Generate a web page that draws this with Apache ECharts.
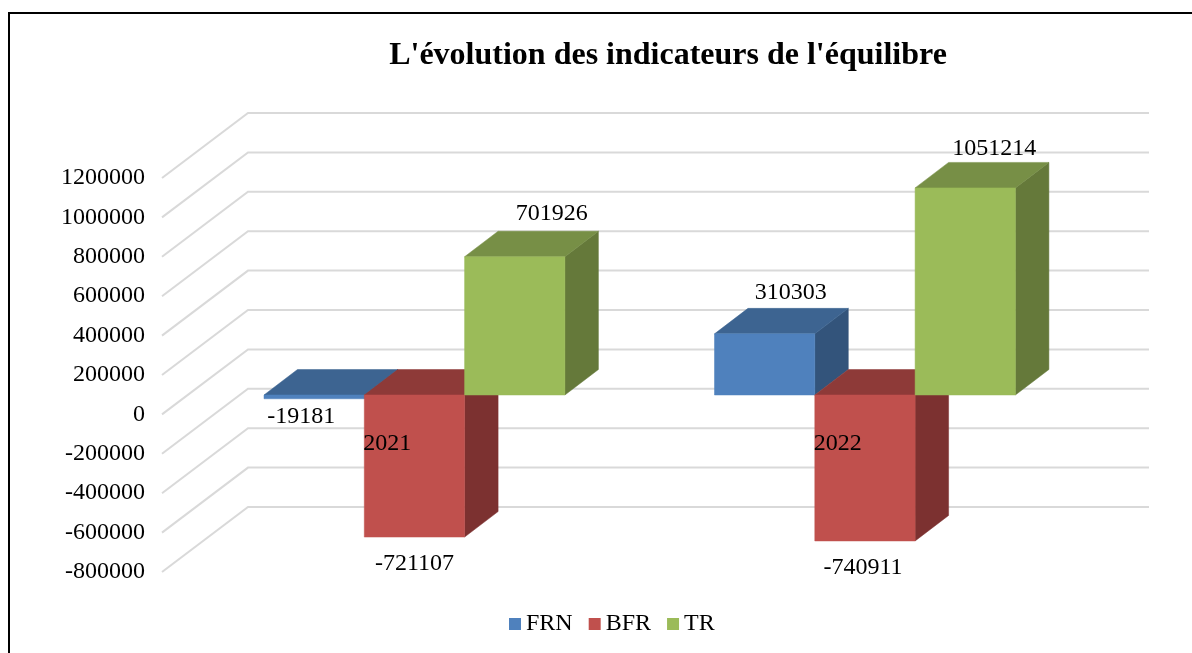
<!DOCTYPE html>
<html>
<head>
<meta charset="utf-8">
<style>html,body{margin:0;padding:0;background:#fff}#c{width:1192px;height:653px}</style>
<script src="https://cdn.jsdelivr.net/npm/echarts@6/dist/echarts.min.js"></script>
</head>
<body>
<div id="c"></div>
<script>
const categories = ['2021', '2022'];
const seriesNames = ['FRN', 'BFR', 'TR'];
const frn = [-19181, 310303];
const bfr = [-721107, -740911];
const tr = [701926, 1051214];
const gridTicks = [-800000, -600000, -400000, -200000, 0, 200000, 400000, 600000, 800000, 1000000, 1200000];

const FONT = '"Liberation Serif", "Times New Roman", serif';
const WALL = {dx: 86, dy: -65};
const DEPTH = {dx: 33.5, dy: -25.5};
const PLANE = {dx: 27.2, dy: -19.4};
const BAR_W = 100.3;
const faces = [
  {front: '#4F81BD', top: '#3D6491', side: '#33547B'},
  {front: '#C0504D', top: '#8E3A38', side: '#7C3130'},
  {front: '#9BBB59', top: '#778F46', side: '#65793A'}
];
// hand-placed data label offsets from the bar's front edge centre
const labelOffsets = [
  [[-13, 18], [26, -41]],
  [[0, 27], [-2, 27]],
  [[37, -43], [29, -39]]
];

function poly(points, fill) {
  return {type: 'polygon', shape: {points}, style: {fill, stroke: fill, lineWidth: 0.5}};
}

function barSeries(name, idx, values) {
  return {
    name, type: 'custom', coordinateSystem: 'cartesian2d', clip: false, z: 3 + idx,
    itemStyle: {color: faces[idx].front},
    encode: {x: 0, y: 1},
    data: values.map((v, i) => [i, v]),
    renderItem(params, api) {
      const c = api.value(0), v = api.value(1);
      const base = api.coord([c, 0]);
      const end = api.coord([c, v]);
      const x0 = base[0] + PLANE.dx + (idx - 1.5) * BAR_W;
      const x1 = x0 + BAR_W;
      const y0 = base[1] + PLANE.dy;
      const y1 = end[1] + PLANE.dy;
      const top = Math.min(y0, y1), bot = Math.max(y0, y1);
      const d = DEPTH, f = faces[idx];
      const off = labelOffsets[idx][c];
      const labelY = v >= 0 ? top : bot;
      return {type: 'group', children: [
        poly([[x1, top], [x1 + d.dx, top + d.dy], [x1 + d.dx, bot + d.dy], [x1, bot]], f.side),
        poly([[x0, top], [x0 + d.dx, top + d.dy], [x1 + d.dx, top + d.dy], [x1, top]], f.top),
        poly([[x0, top], [x1, top], [x1, bot], [x0, bot]], f.front),
        {type: 'text', style: {
          text: String(v), x: (x0 + x1) / 2 + off[0], y: labelY + off[1],
          align: 'center', verticalAlign: 'middle', fill: '#000',
          font: '24px ' + FONT
        }}
      ]};
    }
  };
}

const chart = echarts.init(document.getElementById('c'), null, {renderer: 'canvas'});
chart.setOption({
  animation: false,
  backgroundColor: '#fff',
  title: {
    text: "L'évolution des indicateurs de l'équilibre",
    left: 663, top: 35, textAlign: 'center',
    textStyle: {fontFamily: FONT, fontWeight: 'bold', fontSize: 32, color: '#000'}
  },
  graphic: [{
    type: 'polyline', silent: true,
    shape: {points: [[9, 653], [9, 13], [1192, 13]]},
    style: {stroke: '#000', lineWidth: 2, fill: null}
  }],
  legend: {
    left: 509, top: 612, padding: 0, itemWidth: 12, itemHeight: 12, itemGap: 16,
    data: seriesNames.map(n => ({name: n, icon: 'rect'})),
    textStyle: {fontFamily: FONT, fontSize: 24, color: '#000'}
  },
  grid: {left: 162, top: 178, width: 901, height: 394},
  xAxis: {
    type: 'category', data: categories, z: 10,
    axisLine: {show: false, onZero: false},
    axisTick: {show: false}, splitLine: {show: false},
    axisLabel: {fontFamily: FONT, fontSize: 24, color: '#000', margin: -140}
  },
  yAxis: {
    type: 'value', min: -800000, max: 1200000, interval: 200000,
    axisLine: {show: false}, axisTick: {show: false}, splitLine: {show: false},
    axisLabel: {fontFamily: FONT, fontSize: 24, color: '#000', margin: 17, padding: [3, 0, 0, 0], formatter: v => String(v)}
  },
  series: [
    {
      type: 'custom', name: 'wall', coordinateSystem: 'cartesian2d', clip: false, z: 1, silent: true,
      encode: {x: 0, y: 1},
      data: gridTicks.map(t => [0, t]),
      renderItem(params, api) {
        const y = api.coord([0, api.value(1)])[1];
        const cs = params.coordSys;
        return {type: 'polyline', shape: {points: [
          [cs.x, y], [cs.x + WALL.dx, y + WALL.dy], [cs.x + cs.width + WALL.dx, y + WALL.dy]
        ]}, style: {stroke: '#D9D9D9', lineWidth: 2, fill: null}};
      }
    },
    barSeries('FRN', 0, frn),
    barSeries('BFR', 1, bfr),
    barSeries('TR', 2, tr)
  ]
});
</script>
</body>
</html>
